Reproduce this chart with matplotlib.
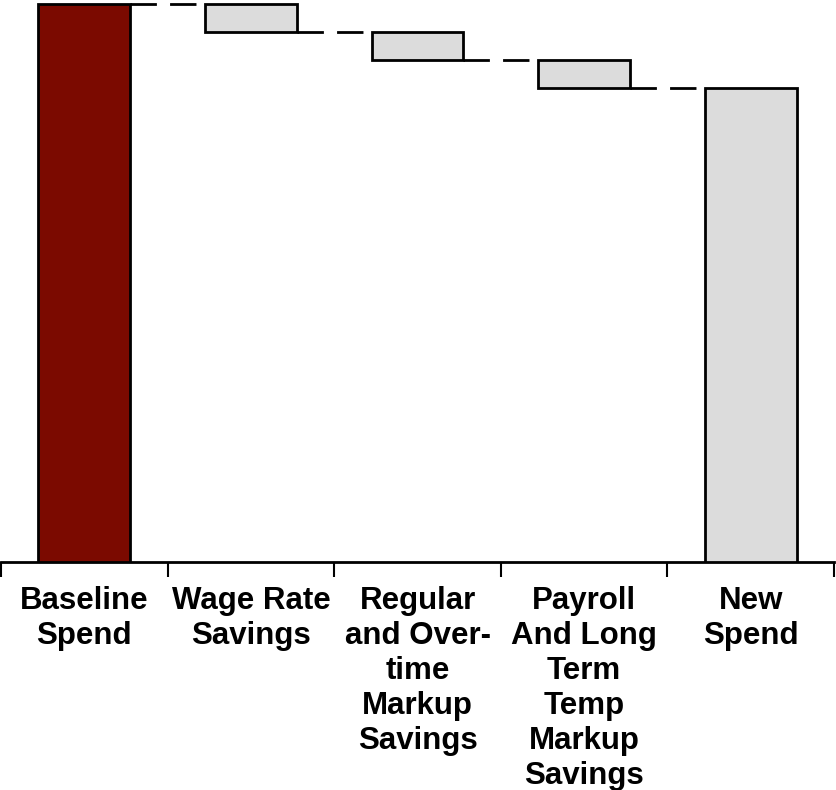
import matplotlib.pyplot as plt
import numpy as np

plt.rcParams['font.family'] = ['Liberation Sans', 'DejaVu Sans']

# Waterfall data
categories = ['Baseline\nSpend', 'Wage Rate\nSavings', 'Regular\nand Over-\ntime\nMarkup\nSavings',
              'Payroll\nAnd Long\nTerm\nTemp\nMarkup\nSavings', 'New\nSpend']
baseline_spend = 100.0
savings = [5.0, 5.0, 5.0]
new_spend = baseline_spend - sum(savings)

# Bar heights and bottoms
heights = [baseline_spend] + savings + [new_spend]
tops = [baseline_spend]
for s in savings:
    tops.append(tops[-1] - s)
tops.append(new_spend)
bottoms = [0.0] + [tops[i + 1] for i in range(len(savings))] + [0.0]
colors = ['#7B0A00', '#DCDCDC', '#DCDCDC', '#DCDCDC', '#DCDCDC']

fig = plt.figure(figsize=(8.36, 7.9), dpi=100)
ax = fig.add_axes([1 / 836, (790 - 562) / 790, 833 / 836, 562 / 790])

x = np.arange(len(categories))
width = 0.55
ax.bar(x, heights, width=width, bottom=bottoms, color=colors,
       edgecolor='black', linewidth=2, zorder=3)

# Dashed connectors between bars
levels = [baseline_spend] + tops[1:4]
for i, lvl in enumerate(levels):
    ax.plot([x[i] + width / 2, x[i + 1] - width / 2], [lvl, lvl],
            color='black', linestyle=(0, (9.5, 4.75)), linewidth=2, zorder=2)

ax.set_xlim(-0.5, len(categories) - 0.5)
ax.set_ylim(0, baseline_spend * 562 / 558)

# Ticks at category boundaries, labels centered under each bar
ax.set_xticks(np.arange(len(categories) + 1) - 0.5)
ax.set_xticklabels([])
ax.set_xticks(x, minor=True)
ax.set_xticklabels(categories, minor=True, fontsize=22.5, fontweight='bold',
                   linespacing=1.225)
ax.tick_params(axis='x', which='major', length=11, width=1.5, direction='out')
ax.tick_params(axis='x', which='minor', length=0, pad=17)
ax.set_yticks([])

for side in ['left', 'right', 'top']:
    ax.spines[side].set_visible(False)
ax.spines['bottom'].set_linewidth(2)

fig.savefig('out.png', dpi=100)
